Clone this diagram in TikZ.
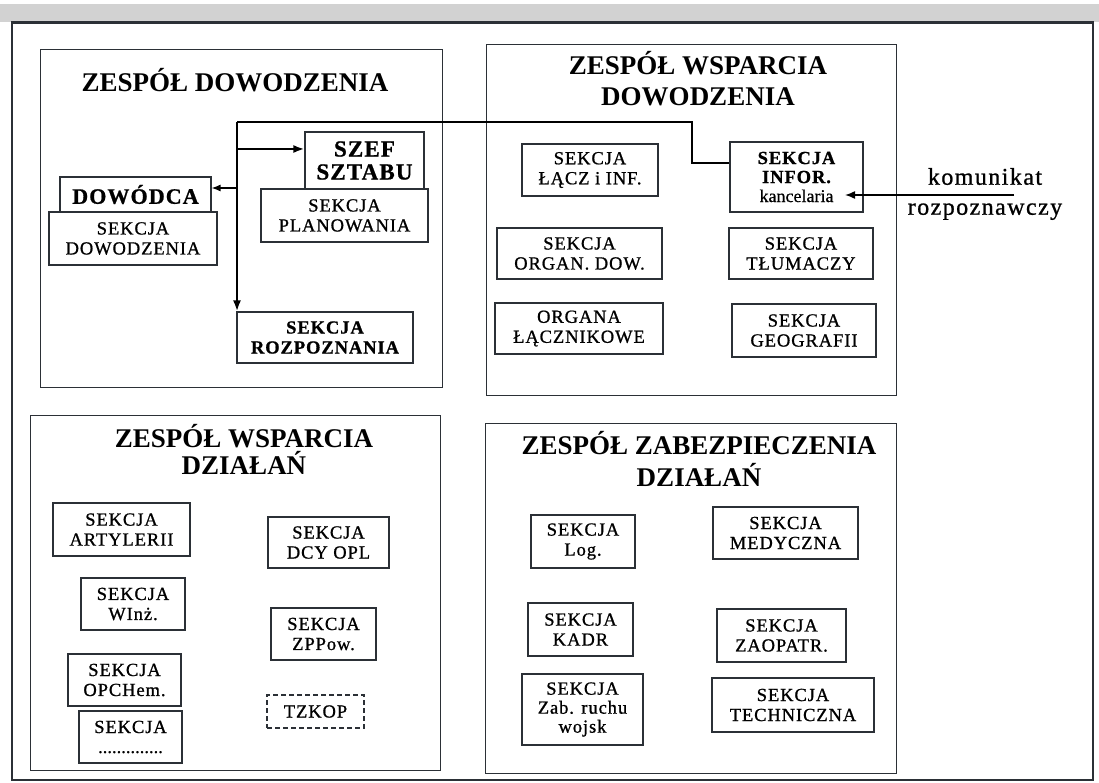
\documentclass[tikz,border=0pt]{standalone}
\usepackage{fontspec}
\setmainfont{Liberation Serif}
\newfontfamily\bxfont[LetterSpace=5,FakeBold=0.9]{Liberation Serif}
\newfontfamily\kfont[LetterSpace=6,FakeBold=0.9]{Liberation Serif}
\newfontfamily\kanfont[FakeBold=0.5]{Liberation Serif}
\usetikzlibrary{arrows.meta}
\definecolor{ln}{rgb}{0.17,0.19,0.21}
\begin{document}
\begin{tikzpicture}[x=1pt,y=-1pt,
  panel/.style={draw=ln, line width=0.9pt, rectangle, inner sep=0pt},
  bx/.style={draw=ln, line width=1.1pt, rectangle, inner sep=0pt, align=center, font=\bxfont\fontsize{18.5}{20}\selectfont},
  bxb/.style={bx, font=\bxfont\bfseries\fontsize{18.5}{20}\selectfont},
  ttl/.style={align=center, inner sep=0pt, font=\bfseries\fontsize{27}{31}\selectfont},
  link/.style={draw=black, line width=2.3pt},
  arr/.style={-{Latex[length=11pt,width=8pt]}}
]
\useasboundingbox (0,0) rectangle (1099,783);
% scan band
\fill[gray!35] (0,4) rectangle (1099,22);
% outer frame
\node[draw=ln, line width=1.3pt, rectangle, inner sep=0pt, minimum width=1081pt, minimum height=757pt] (frame) at (552.5,401.5) {};
\draw[ln, line width=2.4pt] (frame.north west) -- (frame.north east);

% panels
\node[panel, minimum width=402pt, minimum height=338pt] (ptl) at (241,218) {};
\node[panel, minimum width=410pt, minimum height=351pt] (ptr) at (691,219.5) {};
\node[panel, minimum width=410pt, minimum height=355pt] (pbl) at (235,592.5) {};
\node[panel, minimum width=411pt, minimum height=350pt] (pbr) at (690.5,598) {};

% titles
\node[ttl] (ttl1) at (235,80) {ZESPÓŁ DOWODZENIA};
\node[ttl] (ttl2) at (698,78.5) {ZESPÓŁ WSPARCIA\\DOWODZENIA};
\node[ttl, font=\bfseries\fontsize{27}{27}\selectfont] (ttl3) at (244,449) {ZESPÓŁ WSPARCIA\\DZIAŁAŃ};
\node[ttl, font=\bfseries\fontsize{27}{32}\selectfont] (ttl4) at (699,459) {ZESPÓŁ ZABEZPIECZENIA\\DZIAŁAŃ};

% top-left boxes
\node[bx, font=\bxfont\bfseries\fontsize{22}{22}\selectfont, minimum width=151pt, minimum height=35pt] (dowodca) at (135.5,194.5) {DOWÓDCA};
\node[bx, minimum width=168pt, minimum height=53pt] (sdow) at (133,238.5) {SEKCJA\\DOWODZENIA};
\node[bx, font=\bxfont\bfseries\fontsize{23}{23}\selectfont, minimum width=119pt, minimum height=57pt] (szef) at (364.5,160.5) {SZEF\\SZTABU};
\node[bx, minimum width=167pt, minimum height=53pt] (splan) at (344.5,215.5) {SEKCJA\\PLANOWANIA};
\node[bxb, minimum width=176pt, minimum height=51pt] (sroz) at (325,337.5) {SEKCJA\\ROZPOZNANIA};

% top-right boxes
\node[bx, minimum width=136pt, minimum height=52pt] (slacz) at (590,170) {SEKCJA\\ŁĄCZ i INF.};
\node[bx, font=\bxfont\bfseries\fontsize{18.5}{19}\selectfont, minimum width=133pt, minimum height=70pt] (sinfor) at (796.5,177) {SEKCJA\\INFOR.\\{\kanfont\mdseries\fontsize{18}{19}\selectfont kancelaria}};
\node[bx, minimum width=165pt, minimum height=51pt] (sorg) at (579.5,253.5) {SEKCJA\\ORGAN. DOW.};
\node[bx, minimum width=144pt, minimum height=51pt] (stlum) at (801,253.5) {SEKCJA\\TŁUMACZY};
\node[bx, minimum width=168pt, minimum height=51pt] (slaczn) at (579,328.5) {ORGANA\\ŁĄCZNIKOWE};
\node[bx, minimum width=144pt, minimum height=53pt] (sgeo) at (804,330.5) {SEKCJA\\GEOGRAFII};

% bottom-left boxes
\node[bx, minimum width=137pt, minimum height=53pt] (sart) at (121.5,529.5) {SEKCJA\\ARTYLERII};
\node[bx, minimum width=121pt, minimum height=51pt] (sdcy) at (328.5,542.5) {SEKCJA\\DCY OPL};
\node[bx, minimum width=104pt, minimum height=52pt] (swinz) at (133,604) {SEKCJA\\WInż.};
\node[bx, minimum width=105pt, minimum height=52pt] (szpp) at (323.5,634) {SEKCJA\\ZPPow.};
\node[bx, minimum width=113pt, minimum height=52pt] (sopch) at (124.5,680) {SEKCJA\\OPCHem.};
\node[bx, minimum width=103pt, minimum height=52pt] (sdots) at (130.5,737) {SEKCJA\\{\kanfont ..............}};
\node[bx, dashed, dash pattern=on 5pt off 3pt, minimum width=97pt, minimum height=33pt] (tzkop) at (315.5,711.5) {TZKOP};

% bottom-right boxes
\node[bx, minimum width=104pt, minimum height=53pt] (slog) at (583,541.5) {SEKCJA\\Log.};
\node[bx, minimum width=145pt, minimum height=52pt] (smed) at (785.5,533) {SEKCJA\\MEDYCZNA};
\node[bx, minimum width=105pt, minimum height=53pt] (skadr) at (580.5,629.5) {SEKCJA\\KADR};
\node[bx, minimum width=129pt, minimum height=53pt] (szaop) at (781.5,635.5) {SEKCJA\\ZAOPATR.};
\node[bx, font=\bxfont\fontsize{18.5}{19}\selectfont, minimum width=121pt, minimum height=71pt] (szab) at (582.5,709.5) {SEKCJA\\Zab. ruchu\\wojsk};
\node[bx, minimum width=162pt, minimum height=54pt] (stech) at (793,705) {SEKCJA\\TECHNICZNA};

% komunikat
\node[align=center, inner sep=0pt, font=\kfont\fontsize{24}{30}\selectfont] (kom) at (985,194) {komunikat\\rozpoznawczy};

% connectors
\coordinate (hub) at (237,122);
\coordinate (kink) at (692,122);
\coordinate (kink2) at (692,163);
\coordinate (h2) at (237,149);
\coordinate (h3) at (237,188);
\coordinate (kstart) at (1014,195);
\coordinate (kend) at (845,195);

\draw[link, line join=miter] (hub) -- (kink) -- (kink2) -- (kink2 -| sinfor.west);
\draw[link, arr] (hub) -- (hub |- sroz.north);
\draw[link, arr] (h2) -- (h2 -| szef.west);
\draw[draw=black, line width=1.3pt, -{Latex[length=9pt,width=7pt]}] (h3) -- (h3 -| dowodca.east);
\draw[draw=black, line width=1.5pt, -{Latex[length=10pt,width=8pt]}] (kstart) -- (kend);
\end{tikzpicture}
\end{document}
